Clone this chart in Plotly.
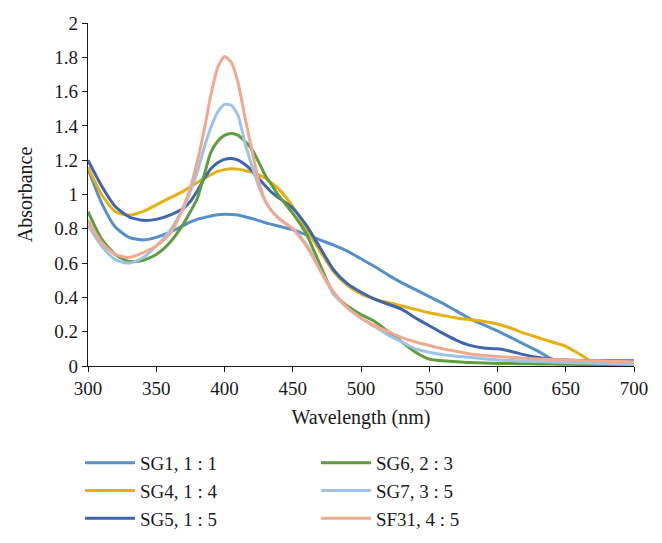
import plotly.graph_objects as go

wavelength = [300, 310, 320, 330, 340, 350, 360, 370, 375, 380, 385, 390, 395, 400, 405, 410,
              415, 420, 425, 430, 435, 440, 450, 460, 470, 480, 490, 500, 510, 520, 530, 540,
              550, 560, 570, 580, 590, 600, 610, 620, 630, 640, 650, 660, 670, 680, 690, 700]

sg1 = [1.15, 0.95, 0.81, 0.75, 0.735, 0.75, 0.78, 0.82, 0.84, 0.855, 0.865, 0.875, 0.882, 0.885, 0.884, 0.88,
       0.87, 0.86, 0.848, 0.835, 0.825, 0.815, 0.795, 0.765, 0.735, 0.705, 0.67, 0.625, 0.58, 0.53, 0.485, 0.445,
       0.405, 0.365, 0.32, 0.275, 0.24, 0.205, 0.165, 0.125, 0.085, 0.04, 0.02, 0.015, 0.015, 0.015, 0.015, 0.015]
sg4 = [1.16, 1.0, 0.9, 0.88, 0.9, 0.94, 0.98, 1.02, 1.045, 1.07, 1.095, 1.115, 1.135, 1.145, 1.15, 1.148,
       1.14, 1.13, 1.115, 1.095, 1.065, 1.03, 0.93, 0.8, 0.67, 0.55, 0.47, 0.42, 0.39, 0.37, 0.35, 0.33,
       0.31, 0.295, 0.28, 0.27, 0.26, 0.245, 0.22, 0.19, 0.165, 0.14, 0.115, 0.07, 0.02, 0.0, 0.0, 0.01]
sg5 = [1.2, 1.05, 0.93, 0.87, 0.85, 0.855, 0.88, 0.92, 0.96, 1.02, 1.09, 1.15, 1.185, 1.205, 1.21, 1.2,
       1.175, 1.14, 1.095, 1.05, 1.01, 0.98, 0.92, 0.82, 0.69, 0.56, 0.48, 0.43, 0.39, 0.36, 0.33, 0.28,
       0.235, 0.19, 0.15, 0.12, 0.105, 0.1, 0.085, 0.065, 0.05, 0.04, 0.035, 0.032, 0.03, 0.03, 0.03, 0.03]
sg6 = [0.9, 0.74, 0.65, 0.61, 0.615, 0.65, 0.72, 0.83, 0.9, 0.975, 1.11, 1.245, 1.31, 1.345, 1.356, 1.345,
       1.31, 1.265, 1.19, 1.11, 1.05, 0.99, 0.89, 0.77, 0.59, 0.42, 0.35, 0.3, 0.26, 0.2, 0.14, 0.08,
       0.04, 0.03, 0.025, 0.02, 0.018, 0.015, 0.014, 0.013, 0.012, 0.011, 0.01, 0.009, 0.008, 0.007, 0.006, 0.005]
sg7 = [0.82, 0.7, 0.62, 0.6, 0.63, 0.7, 0.79, 0.92, 1.02, 1.13, 1.27, 1.39, 1.48, 1.525, 1.52, 1.46,
       1.3, 1.17, 1.05, 0.96, 0.9, 0.86, 0.8, 0.71, 0.56, 0.42, 0.34, 0.28, 0.23, 0.18, 0.14, 0.1,
       0.08, 0.065, 0.057, 0.05, 0.042, 0.035, 0.032, 0.029, 0.026, 0.023, 0.02, 0.018, 0.016, 0.014, 0.012, 0.01]
sf31 = [0.85, 0.72, 0.65, 0.633, 0.66, 0.7, 0.77, 0.93, 1.04, 1.19, 1.37, 1.58, 1.74, 1.805, 1.77, 1.65,
        1.45, 1.26, 1.08, 0.96, 0.9, 0.86, 0.8, 0.7, 0.56, 0.43, 0.34, 0.28, 0.235, 0.2, 0.165, 0.14,
        0.12, 0.1, 0.085, 0.07, 0.062, 0.055, 0.05, 0.045, 0.041, 0.038, 0.035, 0.032, 0.03, 0.028, 0.026, 0.025]

series_names = ["SG1, 1 : 1", "SG4, 1 : 4", "SG5, 1 : 5", "SG6, 2 : 3", "SG7, 3 : 5", "SF31, 4 : 5"]
series_values = [sg1, sg4, sg5, sg6, sg7, sf31]
series_colors = ["#5591C8", "#E6B010", "#3F65AE", "#5E9E3E", "#9DC3E6", "#F0A88E"]
series_legend = ["legend", "legend", "legend", "legend2", "legend2", "legend2"]

x_ticks = [300, 350, 400, 450, 500, 550, 600, 650, 700]
y_ticks = [0, 0.2, 0.4, 0.6, 0.8, 1, 1.2, 1.4, 1.6, 1.8, 2]

FONT = "Liberation Serif"
TXT = "#1a1a1a"

fig = go.Figure()
for i in range(6):
    fig.add_trace(go.Scatter(
        x=wavelength, y=series_values[i], name=series_names[i], mode="lines",
        line=dict(color=series_colors[i], width=3, shape="spline", smoothing=0.6),
        legend=series_legend[i],
    ))

legend_common = dict(
    font=dict(family=FONT, size=19, color=TXT),
    bgcolor="rgba(0,0,0,0)", yanchor="top", xanchor="left", itemwidth=50,
)

fig.update_layout(
    width=654, height=535,
    margin=dict(l=80, r=28, t=15, b=177, autoexpand=False),
    paper_bgcolor="white", plot_bgcolor="white",
    font=dict(family=FONT, size=19, color=TXT),
    showlegend=True,
    legend=dict(x=-0.0147, y=-0.2274, **legend_common),
    legend2=dict(x=0.4175, y=-0.2274, **legend_common),
    xaxis=dict(
        range=[300, 700], tickvals=x_ticks, ticktext=[str(v) for v in x_ticks],
        automargin=False,
        showgrid=False, zeroline=False, showline=True, linecolor=TXT, linewidth=1.2,
        ticks="outside", ticklen=5, tickcolor=TXT, tickwidth=1.2,
        tickfont=dict(family=FONT, size=19, color=TXT),
        title=dict(text="Wavelength (nm)", font=dict(family=FONT, size=20, color=TXT), standoff=12),
    ),
    yaxis=dict(
        range=[0, 2], tickvals=y_ticks, ticktext=[("%g" % v) for v in y_ticks],
        automargin=False,
        showgrid=False, zeroline=False, showline=True, linecolor=TXT, linewidth=1.2,
        ticks="outside", ticklen=5, tickcolor=TXT, tickwidth=1.2,
        tickfont=dict(family=FONT, size=19, color=TXT),
        title=dict(text="Absorbance", font=dict(family=FONT, size=20, color=TXT), standoff=16),
    ),
)

fig.write_html("out.html")
